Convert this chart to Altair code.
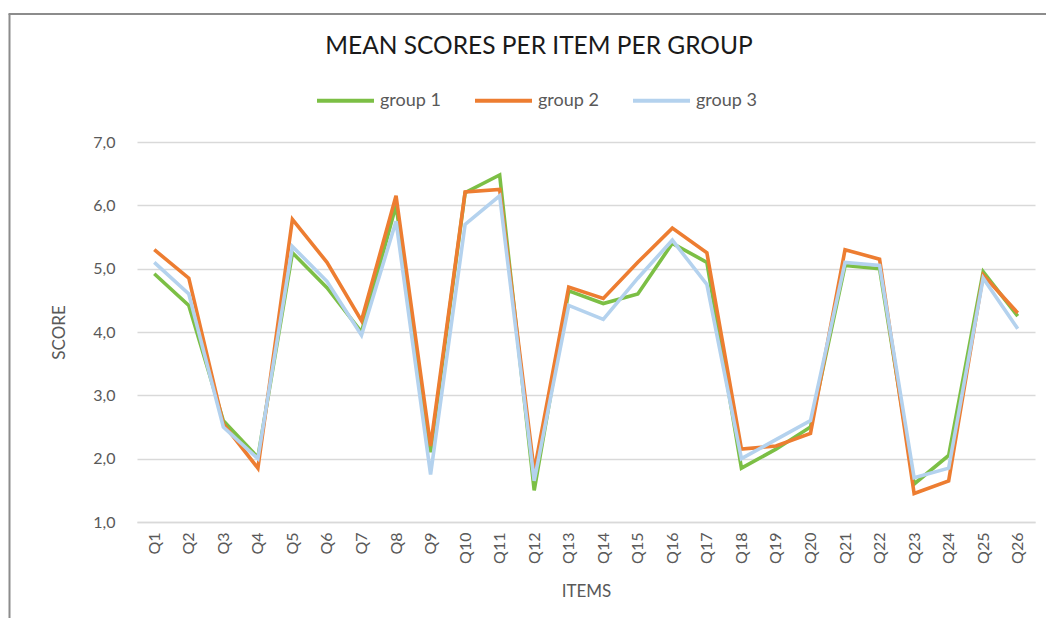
import altair as alt
import pandas as pd

items = [f"Q{i}" for i in range(1, 27)]
group1 = [4.92, 4.42, 2.6, 2.02, 5.25, 4.7, 4.0, 6.0, 2.1, 6.2, 6.48, 1.5, 4.65, 4.45, 4.6,
          5.4, 5.1, 1.85, 2.15, 2.5, 5.05, 5.0, 1.6, 2.05, 4.95, 4.25]
group2 = [5.3, 4.85, 2.55, 1.85, 5.78, 5.1, 4.18, 6.15, 2.2, 6.21, 6.25, 1.8, 4.71, 4.53, 5.1,
          5.64, 5.25, 2.15, 2.2, 2.4, 5.3, 5.15, 1.45, 1.65, 4.9, 4.3]
group3 = [5.1, 4.6, 2.5, 2.0, 5.35, 4.8, 3.95, 5.75, 1.75, 5.7, 6.15, 1.65, 4.42, 4.2, 4.85,
          5.45, 4.75, 2.0, 2.3, 2.6, 5.1, 5.05, 1.7, 1.85, 4.85, 4.05]
groups = ["group 1", "group 2", "group 3"]
colors = ["#7cbf45", "#ed7d31", "#b4d2ee"]
title_text = "MEAN SCORES PER ITEM PER GROUP"

rows = []
for g, vals in zip(groups, [group1, group2, group3]):
    for q, v in zip(items, vals):
        rows.append({"item": q, "score": v, "group": g})
df = pd.DataFrame(rows)

FONT = "Lato, Open Sans, sans-serif"
one = pd.DataFrame({"t": [title_text]})

lines = alt.Chart(df).mark_line(strokeWidth=3.6).encode(
    x=alt.X("item:N", sort=items, title="ITEMS",
            scale=alt.Scale(paddingOuter=0.5),
            axis=alt.Axis(labelAngle=-90, ticks=False, domain=True, domainColor="#d9d9d9",
                          domainWidth=1.5, labelPadding=10, titlePadding=20, grid=False)),
    y=alt.Y("score:Q", title="SCORE",
            scale=alt.Scale(domain=[1, 7], nice=False, zero=False),
            axis=alt.Axis(values=[1, 2, 3, 4, 5, 6, 7], ticks=False, domain=False,
                          labelExpr="replace(format(datum.value, '.1f'), '.', ',')",
                          gridColor="#d9d9d9", gridWidth=1.5, labelPadding=22, titlePadding=24)),
    color=alt.Color("group:N", scale=alt.Scale(domain=groups, range=colors),
                    legend=alt.Legend(title=None, orient="none", direction="horizontal",
                                      legendX=178, legendY=-72, symbolType="stroke",
                                      symbolStrokeWidth=4, symbolSize=3249, columnPadding=26,
                                      labelOffset=4, labelFontSize=18, labelColor="#595959",
                                      labelFont=FONT)),
)

frame_left = alt.Chart(one).mark_rule(color="#8c8c8c", strokeWidth=2).encode(
    x=alt.value(-127.5), y=alt.value(-128), y2=alt.value(480))
frame_top = alt.Chart(one).mark_rule(color="#8c8c8c", strokeWidth=2).encode(
    x=alt.value(-128.5), x2=alt.value(920), y=alt.value(-128))

title = alt.Chart(one).mark_text(font=FONT, fontSize=24.5, color="#1a1a1a",
                                 baseline="middle", align="center").encode(
    text="t:N", x=alt.value(402), y=alt.value(-95))

chart = alt.layer(frame_left, frame_top, title, lines).properties(
    width=898, height=380,
    autosize=alt.AutoSizeParams(type="none"),
    padding={"left": 129, "top": 134, "right": 11, "bottom": 96},
).configure_axis(
    labelFont=FONT, titleFont=FONT, labelFontSize=16, titleFontSize=17,
    labelColor="#595959", titleColor="#595959", titleFontWeight="normal",
).configure_view(stroke=None)

chart.save("out.html", embed_options={"renderer": "svg", "actions": False})
